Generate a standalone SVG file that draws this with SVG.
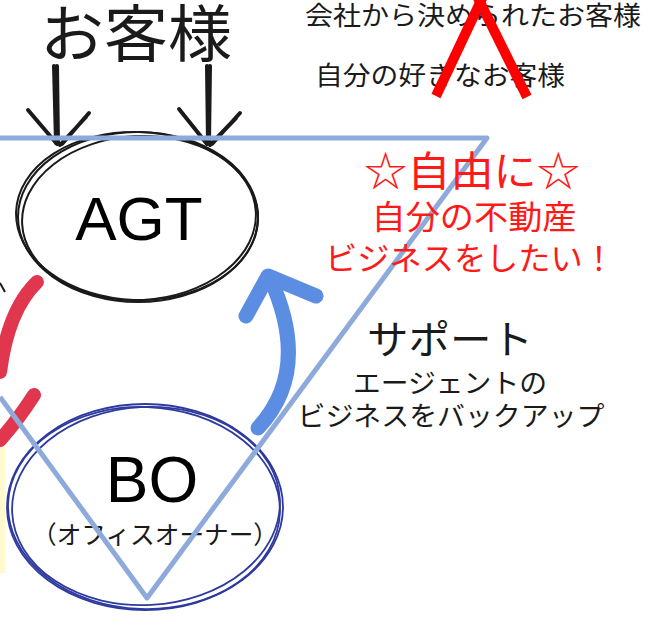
<svg xmlns="http://www.w3.org/2000/svg" width="652" height="619" viewBox="0 0 652 619">
<style>
.jp{font-family:"Noto Sans CJK JP","Noto Sans",sans-serif;}
.lat{font-family:"Liberation Sans","Noto Sans",sans-serif;}
.dark{fill:#1a1a1a;}
.red{fill:#ff1a1a;}
.sk{fill:none;stroke:#1a1a1a;stroke-width:2;}
.bo{fill:none;stroke:#2e3a9e;stroke-width:1.8;}
.arr{fill:none;stroke:#1a1a1a;stroke-width:4;stroke-linecap:round;}
.redarc{fill:none;stroke:#e0364e;stroke-width:14;stroke-linecap:round;}
.tri{fill:none;stroke:#8eaadb;stroke-width:5;stroke-linejoin:round;}
</style>
<rect width="652" height="619" fill="#ffffff"/>
<rect x="0" y="445" width="5" height="128" fill="#fffacd"/>

<g id="customers">
<text class="jp dark" x="136" y="57" font-size="62" text-anchor="middle" textLength="192" lengthAdjust="spacingAndGlyphs">お客様</text>
</g>

<g id="company-customers">
<text class="jp dark" x="473" y="25" font-size="26" text-anchor="middle" textLength="336" lengthAdjust="spacingAndGlyphs">会社から決められたお客様</text>
<text class="jp dark" x="440" y="85" font-size="26" text-anchor="middle" textLength="250" lengthAdjust="spacingAndGlyphs">自分の好きなお客様</text>
<g id="cross">
<line x1="436" y1="96" x2="486" y2="-10" stroke="#ff0000" stroke-width="10"/>
<line x1="474" y1="-10" x2="527" y2="97" stroke="#ff0000" stroke-width="10"/>
</g>
</g>

<g id="agt">
<ellipse class="sk" cx="138" cy="217" rx="120" ry="85"/>
<ellipse class="sk" cx="139" cy="218" rx="117" ry="82" transform="rotate(-3 139 218)"/>
<ellipse class="sk" cx="137" cy="216" rx="121" ry="84" transform="rotate(2 137 216)"/>
<text class="lat" x="139" y="240" font-size="62" text-anchor="middle" fill="#000">AGT</text>
</g>

<g id="bo">
<ellipse class="bo" cx="145" cy="507" rx="138" ry="103"/>
<ellipse class="bo" cx="146" cy="506" rx="134" ry="99" transform="rotate(-3 146 506)"/>
<ellipse class="bo" cx="144" cy="508" rx="136" ry="101" transform="rotate(2 144 508)"/>
<text class="lat" x="152" y="502" font-size="64" text-anchor="middle" fill="#000">BO</text>
<text class="jp dark" x="155" y="544" font-size="25" text-anchor="middle" textLength="246" lengthAdjust="spacingAndGlyphs">（オフィスオーナー）</text>
</g>

<g id="connectors">
<g id="arrow-left">
<path class="arr" d="M57 66 L58 143"/>
<path class="arr" d="M54 66 L56 143" stroke-width="2"/>
<path class="arr" d="M28 110 L57 144 M89 113 L62 144 M86 117 L60 145"/>
</g>
<g id="arrow-right">
<path class="arr" d="M207 66 L208 143"/>
<path class="arr" d="M210 66 L209 143" stroke-width="2"/>
<path class="arr" d="M179 109 L207 144 M240 113 L212 144 M236 118 L210 145"/>
</g>
<g id="support-arrow" fill="none" stroke="#5b8ee2" stroke-width="15" stroke-linecap="round" stroke-linejoin="round">
<path d="M258 428 Q 312 370 270 278"/>
<path d="M246 316 L268 276 L316 296"/>
</g>
<g id="red-arc">
<path class="redarc" d="M37 282 Q 8 310 0 372"/>
<path class="redarc" d="M34 395 Q 18 420 0 440"/>
</g>
<path d="M0 283 L5 292" stroke="#1a1a1a" stroke-width="2" fill="none"/>
</g>

<g id="triangle">
<path class="tri" d="M0 138 L487 138 L147 598 L0 397"/>
</g>

<g id="labels">
<text class="jp red" x="472" y="186" font-size="41" text-anchor="middle" textLength="216" lengthAdjust="spacingAndGlyphs">☆自由に☆</text>
<text class="jp red" x="474" y="229" font-size="33" text-anchor="middle" textLength="205" lengthAdjust="spacingAndGlyphs">自分の不動産</text>
<text class="jp red" x="470" y="270" font-size="32" text-anchor="middle" textLength="290" lengthAdjust="spacingAndGlyphs">ビジネスをしたい！</text>
<text class="jp dark" x="450" y="354" font-size="40" text-anchor="middle" textLength="166" lengthAdjust="spacingAndGlyphs">サポート</text>
<text class="jp dark" x="450" y="393" font-size="27" text-anchor="middle" textLength="194" lengthAdjust="spacingAndGlyphs">エージェントの</text>
<text class="jp dark" x="451" y="426" font-size="27" text-anchor="middle" textLength="307" lengthAdjust="spacingAndGlyphs">ビジネスをバックアップ</text>
</g>
</svg>
